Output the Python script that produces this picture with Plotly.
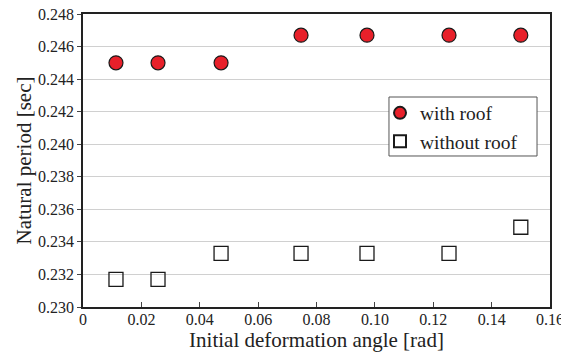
import plotly.graph_objects as go

x_vals = [0.0113, 0.0257, 0.0473, 0.0747, 0.0973, 0.1254, 0.1500]
with_roof = [0.2450, 0.2450, 0.2450, 0.2467, 0.2467, 0.2467, 0.2467]
without_roof = [0.2317, 0.2317, 0.2333, 0.2333, 0.2333, 0.2333, 0.2349]
x_ticks = [0, 0.02, 0.04, 0.06, 0.08, 0.10, 0.12, 0.14, 0.16]
x_tick_text = ["0", "0.02", "0.04", "0.06", "0.08", "0.10", "0.12", "0.14", "0.16"]
y_ticks = [0.230, 0.232, 0.234, 0.236, 0.238, 0.240, 0.242, 0.244, 0.246, 0.248]
y_tick_text = ["%.3f" % v for v in y_ticks]

fig = go.Figure()
fig.add_trace(go.Scatter(x=x_vals, y=with_roof, mode="markers", name="with roof",
                         marker=dict(symbol="circle", size=14, color="#e8202a",
                                     line=dict(color="#1a1a1a", width=1.2))))
fig.add_trace(go.Scatter(x=x_vals, y=without_roof, mode="markers", name="without roof",
                         marker=dict(symbol="square-open", size=14, color="#1a1a1a",
                                     line=dict(width=1.3))))

font = "Liberation Serif"
# legend frame drawn as a paper-referenced box behind the legend entries
fig.add_shape(type="rect", xref="paper", yref="paper",
              x0=0.6552, x1=0.9722, y0=0.5154, y1=0.7167,
              line=dict(color="#555", width=1), fillcolor="white", layer="above")

# page body has an 8px default margin, so the figure is 8px smaller and margins are reduced
fig.update_layout(
    width=561, height=344,
    margin=dict(l=75, r=19, t=6, b=45, autoexpand=False),
    paper_bgcolor="white", plot_bgcolor="white",
    font=dict(family=font, size=16, color="#222"),
    showlegend=True,
    legend=dict(x=0.636, y=0.728, xanchor="left", yanchor="top",
                borderwidth=0, bgcolor="rgba(0,0,0,0)",
                font=dict(size=19.5, family=font, color="#222"), itemsizing="constant",
                tracegroupgap=0),
    xaxis=dict(range=[0, 0.16], tickvals=x_ticks, ticktext=x_tick_text, automargin=False,
               showgrid=False, zeroline=False, showline=True, linecolor="#222",
               linewidth=1.5, mirror=True, ticks="inside", ticklen=5, tickcolor="#444",
               ticklabeloverflow="allow", ticklabelstandoff=-3,
               title=dict(text="Initial deformation angle [rad]",
                          font=dict(size=21, family=font, color="#222"), standoff=4),
               tickfont=dict(size=16, family=font, color="#222")),
    yaxis=dict(range=[0.230, 0.248], tickvals=y_ticks, ticktext=y_tick_text, automargin=False,
               showgrid=True, gridcolor="#d0d0d0", gridwidth=1.3, zeroline=False,
               showline=True, linecolor="#222", linewidth=1.5, mirror=True,
               ticks="outside", ticklen=4, tickcolor="#444",
               ticklabeloverflow="allow",
               title=dict(text="Natural period [sec]",
                          font=dict(size=21, family=font, color="#222"), standoff=1),
               tickfont=dict(size=16, family=font, color="#222")),
)
fig.write_html("out.html")
